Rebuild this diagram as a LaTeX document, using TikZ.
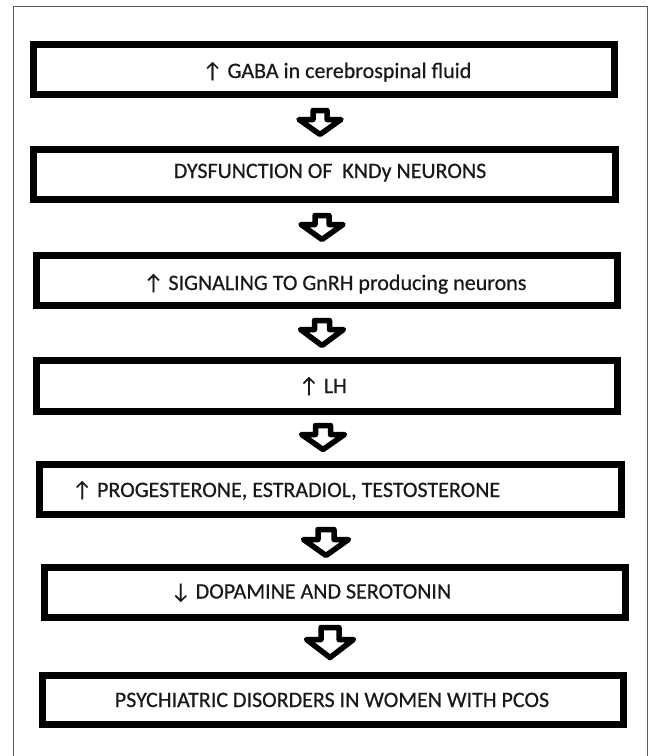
\documentclass[tikz,border=0pt]{standalone}
\usepackage{fontspec}
\setmainfont{Carlito}
\newfontfamily\lblfont{Carlito}[FakeBold=0.5]
\usetikzlibrary{calc}
\begin{document}
\begin{tikzpicture}[x=1pt,y=-1pt,
  box/.style={draw=black, line width=7pt, rectangle, minimum width=581pt, minimum height=50pt, inner sep=0pt, outer sep=3.5pt},
  lbl/.style={font=\lblfont\fontsize{22}{26}\selectfont, text=black!90, inner sep=0pt, anchor=base},
  frameline/.style={draw=black!65, line width=1pt},
  arrowline/.style={draw=black, line width=5.5pt, line join=round, fill=white},
  pics/barrow/.style n args={4}{code={\draw[arrowline] (-#3,0) -- (#3,0) -- (#3,#2) -- (#4,#2) -- (0,#1) -- (-#4,#2) -- (-#3,#2) -- cycle;}}
]
\useasboundingbox (0,0) rectangle (648,756);
\fill[white] (0,0) rectangle (648,756);
\draw[frameline] (13,760) -- (13,6) -- (647,6) -- (647,760);

\node[box] (b1) at (324,69.5) {};
\node[box, minimum width=582pt] (b2) at (324.5,174.5) {};
\node[box] (b3) at (327,280.5) {};
\node[box, minimum height=51pt] (b4) at (327,386) {};
\node[box, minimum width=582pt] (b5) at (330.5,489.5) {};
\node[box] (b6) at (335,592.5) {};
\node[box, minimum height=49pt] (b7) at (333,700) {};

\node[lbl] (t1) at (337,78) {↑ GABA in cerebrospinal fluid};
\node[lbl] (t2) at (330,178) {DYSFUNCTION OF\ \ KNDy NEURONS};
\node[lbl] (t3) at (335,290) {↑ SIGNALING TO GnRH producing neurons};
\node[lbl] (t4) at (323,393) {↑ LH};
\node[lbl, anchor=base west] (t5) at (72,497) {↑ PROGESTERONE, ESTRADIOL, TESTOSTERONE};
\node[lbl] (t6) at (311,598.5) {↓ DOPAMINE AND SEROTONIN};
\node[lbl] (t7) at (332,707) {PSYCHIATRIC DISORDERS IN WOMEN WITH PCOS};

\path (b1.south) ++(-4,12.5) pic {barrow={24}{9}{7}{21}};
\path (b2.south) ++(-2.5,12.5) pic {barrow={24}{9}{7}{21}};
\path (b3.south) ++(-5,11.5) pic {barrow={25}{9}{7.5}{21.5}};
\path (b4.south) ++(-4,10.5) pic {barrow={24}{9}{7.5}{21.5}};
\path (b5.south) ++(-4.5,11.5) pic {barrow={26}{10}{8}{22.5}};
\path (b6.south) ++(-5,6.5) pic {barrow={30}{12}{9}{23.5}};
\end{tikzpicture}
\end{document}
